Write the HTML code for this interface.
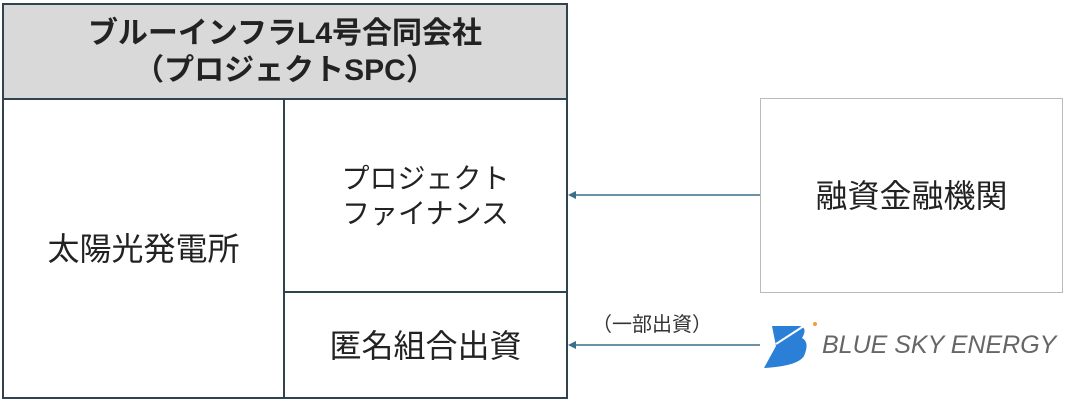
<!DOCTYPE html>
<html><head><meta charset="utf-8"><style>
body{margin:0;width:1065px;height:400px;background:#fff;position:relative;overflow:hidden;font-family:"Liberation Sans","Noto Sans CJK JP",sans-serif;color:#222}
.b{position:absolute;box-sizing:border-box;display:flex;align-items:center;justify-content:center;text-align:center;font-size:32px;line-height:36px;white-space:nowrap}
</style></head><body>
<div class="b" style="left:2px;top:3px;width:566px;height:396px;border:2px solid #2f4350"></div>
<div class="b" style="left:2px;top:3px;width:566px;height:97px;border:2px solid #2f4350;background:#d9d9d9;font-weight:bold;font-size:30px;line-height:37px">ブルーインフラL4号合同会社<br>（プロジェクトSPC）</div>
<div style="position:absolute;left:283px;top:99px;width:2px;height:299px;background:#2f4350"></div>
<div style="position:absolute;left:283px;top:291px;width:284px;height:2px;background:#2f4350"></div>
<div class="b" style="left:4px;top:100px;width:279px;height:298px">太陽光発電所</div>
<div class="b" style="left:285px;top:100px;width:281px;height:191px;font-size:28px;line-height:35px">プロジェクト<br>ファイナンス</div>
<div class="b" style="left:285px;top:293px;width:281px;height:105px">匿名組合出資</div>
<div class="b" style="left:760px;top:98px;width:303px;height:195px;border:1.5px solid #bbb">融資金融機関</div>
<svg style="position:absolute;left:0;top:0" width="1065" height="400">
<line x1="760" y1="195" x2="572" y2="195" stroke="#3a6f8a" stroke-width="1.5"/>
<polygon points="568,195 576,191 576,199" fill="#3a6f8a"/>
<line x1="760" y1="345" x2="572" y2="345" stroke="#3a6f8a" stroke-width="1.5"/>
<polygon points="568,345 576,341 576,349" fill="#3a6f8a"/>
<path d="M772 326 L800 326 Q808 328 802 338 Q810 342 804 356 Q798 366 764 368 L776 346 Z" fill="#2b7fd6"/>
<path d="M776 344 L810 322" stroke="#fff" stroke-width="2"/>
<circle cx="815" cy="324" r="2" fill="#f0a030"/>
</svg>
<div style="position:absolute;left:592px;top:308px;font-size:20px;color:#333;white-space:nowrap">（一部出資）</div>
<div style="position:absolute;left:822px;top:331px;font-size:25px;font-style:italic;color:#666;white-space:nowrap">BLUE SKY ENERGY</div>
</body></html>
